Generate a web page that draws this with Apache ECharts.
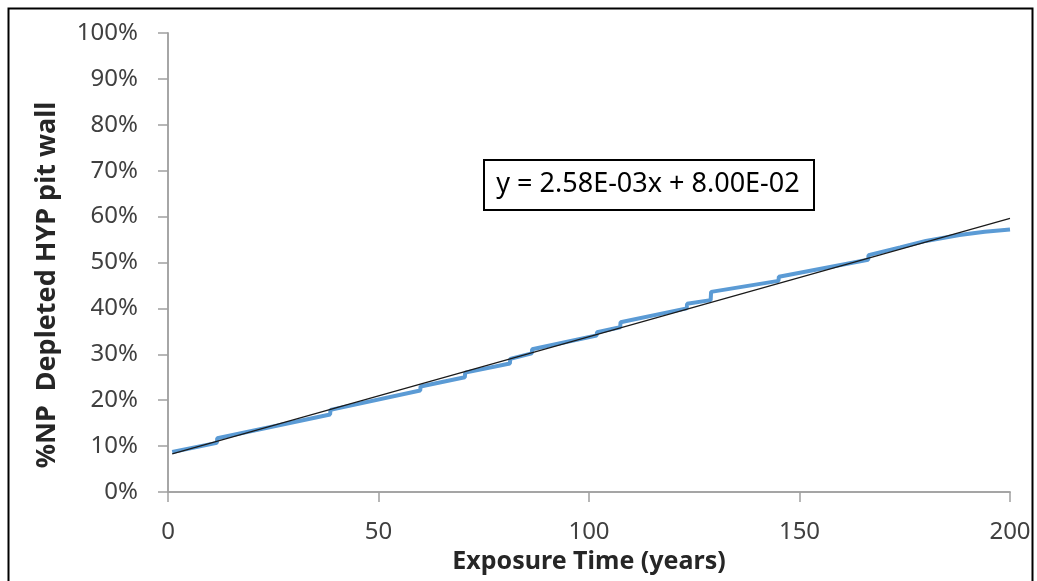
<!DOCTYPE html>
<html>
<head>
<meta charset="utf-8">
<script src="https://cdn.jsdelivr.net/npm/echarts@6/dist/echarts.min.js"></script>
<style>
html,body{margin:0;padding:0;background:#fff;}
#chart{width:1037px;height:581px;}
</style>
</head>
<body>
<div id="chart"></div>
<script>
// Exposure time (years) for the modelled series
const exposureYears = [1, 11.6, 11.7, 38.5, 38.6, 59.9, 60.0, 70.5, 70.6, 81.2, 81.3, 86.4, 86.5, 101.8, 101.9, 107.4, 107.5, 123.2, 123.3, 128.9, 129.0, 145.0, 145.1, 166.3, 166.4, 173.9, 180, 188, 194, 200];
// % NP depleted (percent)
const npDepleted = [8.7, 10.7, 11.7, 16.9, 17.9, 22.1, 23.0, 25.0, 26.0, 28.0, 29.0, 30.2, 31.1, 34.1, 34.8, 35.9, 37.0, 40.0, 41.0, 41.8, 43.6, 46.0, 46.9, 50.6, 51.6, 53.3, 54.7, 56.0, 56.7, 57.2];
// Linear trendline end points
const trendYears = [1, 200];
const trendValues = [8.3, 59.6];
const equationText = 'y = 2.58E-03x + 8.00E-02';
const xTitle = 'Exposure Time (years)';
const yTitle = '%NP  Depleted HYP pit wall';

const seriesData = exposureYears.map((x, i) => [x, npDepleted[i]]);
const trendData = trendYears.map((x, i) => [x, trendValues[i]]);

const chart = echarts.init(document.getElementById('chart'), null, {renderer: 'canvas'});
const axisColor = '#a0a0a0';
const labelColor = '#404040';
const FONT = '"Noto Sans", "DejaVu Sans", sans-serif';

chart.setOption({
  animation: false,
  backgroundColor: '#fff',
  grid: {left: 168, right: 27, top: 33, bottom: 89, containLabel: false},
  xAxis: [{
    type: 'value', min: 0, max: 200, interval: 50,
    name: xTitle, nameLocation: 'middle', nameGap: 45,
    nameTextStyle: {fontFamily: FONT, fontSize: 25, fontWeight: 'bold', color: '#262626'},
    axisLine: {show: true, lineStyle: {color: axisColor, width: 1.5}},
    axisTick: {show: true, inside: false, length: 10, lineStyle: {color: axisColor, width: 1.5}},
    axisLabel: {fontFamily: FONT, fontSize: 24, color: labelColor, margin: 28},
    splitLine: {show: false}
  }, {
    type: 'value', min: 0, max: 200, interval: 50, position: 'top',
    axisLine: {show: true, lineStyle: {color: axisColor, width: 1.5}},
    axisTick: {show: false},
    axisLabel: {show: false},
    splitLine: {show: false}
  }],
  yAxis: [{
    type: 'value', min: 0, max: 100, interval: 10,
    axisLine: {show: true, lineStyle: {color: axisColor, width: 1.5}},
    axisTick: {show: true, inside: false, length: 10, lineStyle: {color: axisColor, width: 1.5}},
    axisLabel: {fontFamily: FONT, fontSize: 24, color: labelColor, margin: 30, formatter: v => v + '%'},
    splitLine: {show: false}
  }, {
    type: 'value', min: 0, max: 100, interval: 10, position: 'right',
    axisLine: {show: true, lineStyle: {color: axisColor, width: 1.5}},
    axisTick: {show: true, inside: true, length: 8, lineStyle: {color: axisColor, width: 1.5}},
    axisLabel: {show: false},
    splitLine: {show: false}
  }],
  series: [{
    type: 'line', data: seriesData, showSymbol: false, symbol: 'none',
    lineStyle: {color: '#5B9BD5', width: 4},
    z: 2
  }, {
    type: 'line', data: trendData, showSymbol: false, symbol: 'none',
    lineStyle: {color: '#1a1a1a', width: 1.2},
    z: 3
  }],
  graphic: [{
    type: 'rect', left: 6, top: 6, z: 100, silent: true,
    shape: {width: 1024, height: 620},
    style: {fill: 'none', stroke: '#000', lineWidth: 2}
  }, {
    type: 'text', z: 101, x: 47, y: 285, rotation: Math.PI / 2,
    style: {text: yTitle, fontFamily: FONT, fontSize: 27, fontWeight: 'bold', fill: '#262626', align: 'center', verticalAlign: 'middle'}
  }, {
    type: 'rect', left: 483, top: 159, z: 100,
    shape: {width: 330, height: 50},
    style: {fill: '#fff', stroke: '#000', lineWidth: 2}
  }, {
    type: 'text', z: 101,
    x: 648, y: 184,
    style: {text: equationText, fontFamily: FONT, fontSize: 27, fill: '#000', align: 'center', verticalAlign: 'middle'}
  }]
});
</script>
</body>
</html>
